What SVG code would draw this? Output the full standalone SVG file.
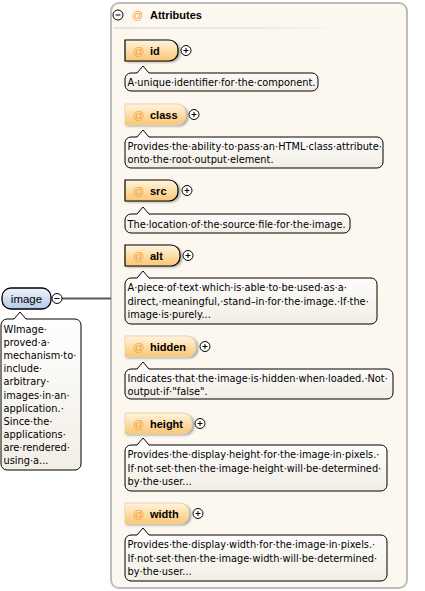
<svg xmlns="http://www.w3.org/2000/svg" width="425" height="591" viewBox="0 0 425 591">
<defs>
<linearGradient id="gAttr" x1="0" y1="0" x2="0" y2="1">
<stop offset="0" stop-color="#FFF4E0"/><stop offset="0.5" stop-color="#FDDDA8"/><stop offset="1" stop-color="#F9C675"/>
</linearGradient>
<linearGradient id="gElem" x1="0" y1="0" x2="0" y2="1">
<stop offset="0" stop-color="#EEF3FB"/><stop offset="1" stop-color="#B5C9EA"/>
</linearGradient>
<linearGradient id="gDoc" x1="0" y1="0" x2="0" y2="1">
<stop offset="0" stop-color="#FFFFFF"/><stop offset="1" stop-color="#F2EEE6"/>
</linearGradient>
<linearGradient id="gSep" x1="0" y1="0" x2="1" y2="0">
<stop offset="0" stop-color="#D8D4CC"/><stop offset="0.7" stop-color="#E6E2DA"/><stop offset="1" stop-color="#FDF8EF"/>
</linearGradient>
<filter id="sh" x="-20%" y="-20%" width="150%" height="160%">
<feGaussianBlur stdDeviation="1"/>
</filter>
<g id="plus"><circle cx="0" cy="0" r="5" fill="#fff" stroke="#000" stroke-width="1"/><path d="M-2.5,0 H2.5 M0,-2.5 V2.5" stroke="#000" stroke-width="1"/></g>
<g id="minus"><circle cx="0" cy="0" r="5" fill="#fff" stroke="#000" stroke-width="1"/><path d="M-2.5,0 H2.5" stroke="#000" stroke-width="1"/></g>
</defs>
<style>
.doc{fill:url(#gDoc);stroke:#000;stroke-width:1}
.dt{font-family:"DejaVu Sans","Liberation Sans",sans-serif;font-size:9.8px;fill:#000}
.at{font-family:"Liberation Sans",Arial,sans-serif;font-size:11px;fill:#F2A23A}
.an{font-family:"Liberation Sans",Arial,sans-serif;font-size:11px;font-weight:bold;fill:#000}
.req{fill:url(#gAttr);stroke:#000;stroke-width:1.2}
.opt{fill:url(#gAttr);stroke:#E6D3AE;stroke-width:1}
.shd{fill:#000;opacity:0.3;filter:url(#sh)}
</style>

<g id="node-attributes">
<rect x="111" y="3" width="296" height="585" rx="8" fill="#FDF8EF" stroke="#BDBDBD" stroke-width="2"/>
<rect x="113" y="27.5" width="230" height="1.2" fill="url(#gSep)"/>
<use href="#minus" x="118" y="15"/>
<text class="at" x="132" y="19">@</text>
<text class="an" x="150" y="19">Attributes</text>
</g>

<g id="connectors">
<line x1="62" y1="298.5" x2="111" y2="298.5" stroke="#5A5A5A" stroke-width="2"/>
</g>

<g id="node-image">
<rect x="2" y="288" width="49" height="21" rx="9" fill="url(#gElem)" stroke="#000" stroke-width="1.3"/>
<text x="26.5" y="302.5" text-anchor="middle" font-family="Liberation Sans, Arial, sans-serif" font-size="11.5" fill="#000">image</text>
<use href="#minus" x="57" y="298.5"/>
</g>
<g id="doc-image" transform="translate(1,319)">
<path class="doc" d="M6,0 H13 L19,-7 L25,0 H74 A6,6 0 0 1 80,6 V145 A6,6 0 0 1 74,151 H6 A6,6 0 0 1 0,145 V6 A6,6 0 0 1 6,0 Z"/>
<text class="dt" x="2.5" y="14">WImage·</text>
<text class="dt" x="2.5" y="27.1">proved·a·</text>
<text class="dt" x="2.5" y="40.2">mechanism·to·</text>
<text class="dt" x="2.5" y="53.3">include·</text>
<text class="dt" x="2.5" y="66.4">arbitrary·</text>
<text class="dt" x="2.5" y="79.5">images·in·an·</text>
<text class="dt" x="2.5" y="92.6">application.·</text>
<text class="dt" x="2.5" y="105.7">Since·the·</text>
<text class="dt" x="2.5" y="118.8">applications·</text>
<text class="dt" x="2.5" y="131.9">are·rendered·</text>
<text class="dt" x="2.5" y="145">using·a...</text>
</g>

<g id="node-id" transform="translate(125,40)">
<path class="shd" d="M1.5,1.5 H46.5 A9,9 0 0 1 55.5,10.5 V13.5 A9,9 0 0 1 46.5,22.5 H1.5 Z"/>
<path class="req" d="M0,0 H44 A9,9 0 0 1 53,9 V12 A9,9 0 0 1 44,21 H0 Z"/>
<text class="at" x="8" y="15">@</text><text class="an" x="25" y="15">id</text>
<use href="#plus" x="61" y="10.5"/>
</g>
<g id="doc-id" transform="translate(125,73)">
<path class="doc" d="M6,0 H12 L18,-7 L24,0 H187 A6,6 0 0 1 193,6 V12 A6,6 0 0 1 187,18 H6 A6,6 0 0 1 0,12 V6 A6,6 0 0 1 6,0 Z"/>
<text class="dt" x="2.5" y="13">A·unique·identifier·for·the·component.</text>
</g>

<g id="node-class" transform="translate(125,104)">
<path class="shd" d="M1.5,1.5 H54.5 A9,9 0 0 1 63.5,10.5 V13.5 A9,9 0 0 1 54.5,22.5 H1.5 Z"/>
<path class="opt" d="M0,0 H52 A9,9 0 0 1 61,9 V12 A9,9 0 0 1 52,21 H0 Z"/>
<text class="at" x="8" y="15">@</text><text class="an" x="25" y="15">class</text>
<use href="#plus" x="69" y="10.5"/>
</g>
<g id="doc-class" transform="translate(125,137)">
<path class="doc" d="M6,0 H12 L18,-7 L24,0 H252 A6,6 0 0 1 258,6 V25 A6,6 0 0 1 252,31 H6 A6,6 0 0 1 0,25 V6 A6,6 0 0 1 6,0 Z"/>
<text class="dt" x="2.5" y="12.5">Provides·the·ability·to·pass·an·HTML·class·attribute·</text>
<text class="dt" x="2.5" y="26">onto·the·root·output·element.</text>
</g>

<g id="node-src" transform="translate(125,180)">
<path class="shd" d="M1.5,1.5 H46.5 A9,9 0 0 1 55.5,10.5 V13.5 A9,9 0 0 1 46.5,22.5 H1.5 Z"/>
<path class="req" d="M0,0 H44 A9,9 0 0 1 53,9 V12 A9,9 0 0 1 44,21 H0 Z"/>
<text class="at" x="8" y="15">@</text><text class="an" x="25" y="15">src</text>
<use href="#plus" x="62" y="10.5"/>
</g>
<g id="doc-src" transform="translate(125,214)">
<path class="doc" d="M6,0 H12 L18,-7 L24,0 H219 A6,6 0 0 1 225,6 V13 A6,6 0 0 1 219,19 H6 A6,6 0 0 1 0,13 V6 A6,6 0 0 1 6,0 Z"/>
<text class="dt" x="2.5" y="13.5">The·location·of·the·source·file·for·the·image.</text>
</g>

<g id="node-alt" transform="translate(125,245)">
<path class="shd" d="M1.5,1.5 H48.5 A9,9 0 0 1 57.5,10.5 V13.5 A9,9 0 0 1 48.5,22.5 H1.5 Z"/>
<path class="req" d="M0,0 H46 A9,9 0 0 1 55,9 V12 A9,9 0 0 1 46,21 H0 Z"/>
<text class="at" x="8" y="15">@</text><text class="an" x="25" y="15">alt</text>
<use href="#plus" x="63" y="10.5"/>
</g>
<g id="doc-alt" transform="translate(125,278)">
<path class="doc" d="M6,0 H12 L18,-7 L24,0 H246 A6,6 0 0 1 252,6 V40 A6,6 0 0 1 246,46 H6 A6,6 0 0 1 0,40 V6 A6,6 0 0 1 6,0 Z"/>
<text class="dt" x="2.5" y="13">A·piece·of·text·which·is·able·to·be·used·as·a·</text>
<text class="dt" x="2.5" y="26.5">direct,·meaningful,·stand–in·for·the·image.·If·the·</text>
<text class="dt" x="2.5" y="40">image·is·purely...</text>
</g>

<g id="node-hidden" transform="translate(125,336)">
<path class="shd" d="M1.5,1.5 H64.5 A9,9 0 0 1 73.5,10.5 V13.5 A9,9 0 0 1 64.5,22.5 H1.5 Z"/>
<path class="opt" d="M0,0 H62 A9,9 0 0 1 71,9 V12 A9,9 0 0 1 62,21 H0 Z"/>
<text class="at" x="8" y="15">@</text><text class="an" x="25" y="15">hidden</text>
<use href="#plus" x="80" y="10.5"/>
</g>
<g id="doc-hidden" transform="translate(125,369)">
<path class="doc" d="M6,0 H12 L18,-7 L24,0 H262 A6,6 0 0 1 268,6 V24 A6,6 0 0 1 262,30 H6 A6,6 0 0 1 0,24 V6 A6,6 0 0 1 6,0 Z"/>
<text class="dt" x="2.5" y="12.5">Indicates·that·the·image·is·hidden·when·loaded.·Not·</text>
<text class="dt" x="2.5" y="25.5">output·if·"false".</text>
</g>

<g id="node-height" transform="translate(125,413)">
<path class="shd" d="M1.5,1.5 H60.5 A9,9 0 0 1 69.5,10.5 V13.5 A9,9 0 0 1 60.5,22.5 H1.5 Z"/>
<path class="opt" d="M0,0 H58 A9,9 0 0 1 67,9 V12 A9,9 0 0 1 58,21 H0 Z"/>
<text class="at" x="8" y="15">@</text><text class="an" x="25" y="15">height</text>
<use href="#plus" x="75" y="10.5"/>
</g>
<g id="doc-height" transform="translate(125,445)">
<path class="doc" d="M6,0 H12 L18,-7 L24,0 H256 A6,6 0 0 1 262,6 V40 A6,6 0 0 1 256,46 H6 A6,6 0 0 1 0,40 V6 A6,6 0 0 1 6,0 Z"/>
<text class="dt" x="2.5" y="13">Provides·the·display·height·for·the·image·in·pixels.·</text>
<text class="dt" x="2.5" y="26.5">If·not·set·then·the·image·height·will·be·determined·</text>
<text class="dt" x="2.5" y="40">by·the·user...</text>
</g>

<g id="node-width" transform="translate(125,503)">
<path class="shd" d="M1.5,1.5 H57.5 A9,9 0 0 1 66.5,10.5 V13.5 A9,9 0 0 1 57.5,22.5 H1.5 Z"/>
<path class="opt" d="M0,0 H55 A9,9 0 0 1 64,9 V12 A9,9 0 0 1 55,21 H0 Z"/>
<text class="at" x="8" y="15">@</text><text class="an" x="25" y="15">width</text>
<use href="#plus" x="73" y="10.5"/>
</g>
<g id="doc-width" transform="translate(125,535)">
<path class="doc" d="M6,0 H12 L18,-7 L24,0 H256 A6,6 0 0 1 262,6 V40 A6,6 0 0 1 256,46 H6 A6,6 0 0 1 0,40 V6 A6,6 0 0 1 6,0 Z"/>
<text class="dt" x="2.5" y="13">Provides·the·display·width·for·the·image·in·pixels.·</text>
<text class="dt" x="2.5" y="26.5">If·not·set·then·the·image·width·will·be·determined·</text>
<text class="dt" x="2.5" y="40">by·the·user...</text>
</g>
</svg>
